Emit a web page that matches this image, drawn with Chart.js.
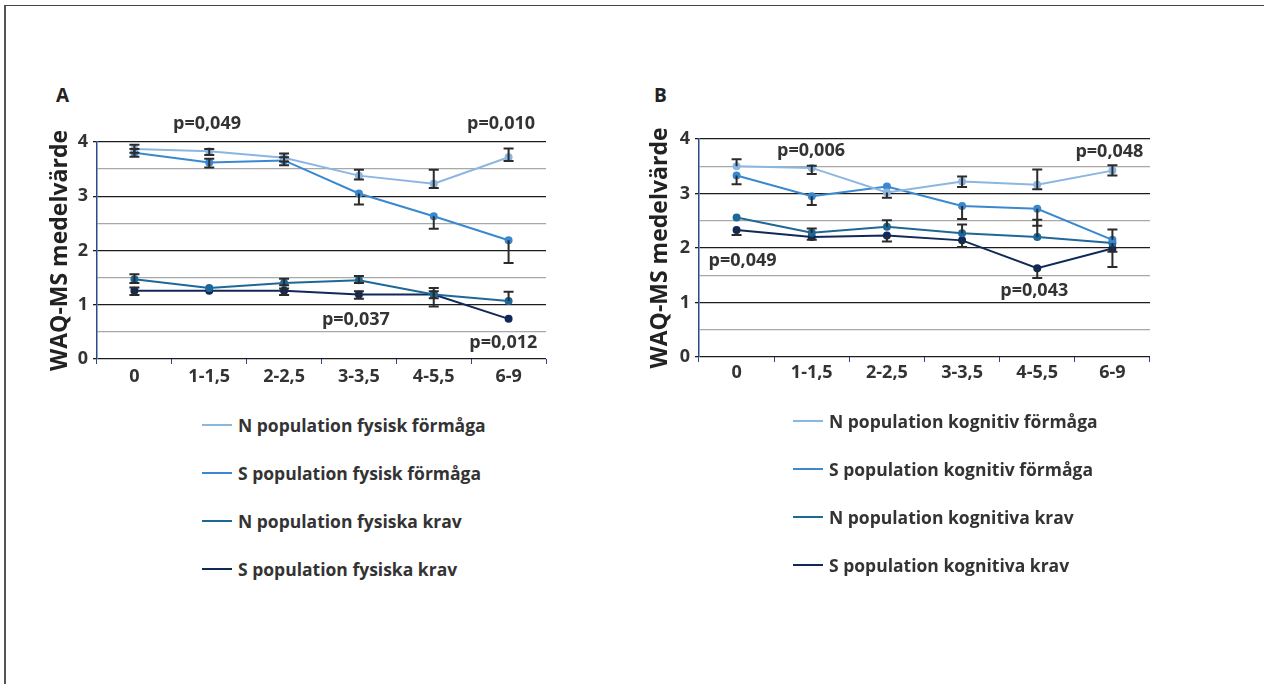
<!DOCTYPE html>
<html>
<head>
<meta charset="utf-8">
<script src="https://cdn.jsdelivr.net/npm/chart.js@4"></script>
<style>
  body { margin: 0; background: #fff; width: 1264px; height: 684px; position: relative; overflow: hidden; font-family: "Open Sans", sans-serif; }
  .frame { position: absolute; left: 4px; top: 5px; right: 0; bottom: 0; border-top: 1px solid #444; border-left: 2px solid #555; }
  .panel-label { position: absolute; font: bold 19px "Open Sans", sans-serif; color: #222; line-height: 1; }
  .chart-box { position: absolute; width: 530px; height: 320px; }
  .legend { position: absolute; font: bold 17.5px "Open Sans", sans-serif; color: #333; }
  .legend div { height: 48px; display: flex; align-items: center; }
  .legend span.swatch { display: inline-block; width: 30px; height: 2px; margin-right: 6px; }
</style>
</head>
<body>
<div class="frame"></div>
<div class="panel-label" style="left:56px; top:86px;">A</div>
<div class="panel-label" style="left:654px; top:86px;">B</div>
<div class="chart-box" style="left:40px; top:80px;"><canvas id="chartA"></canvas></div>
<div class="chart-box" style="left:640px; top:80px;"><canvas id="chartB"></canvas></div>
<div class="legend" id="legendA" style="left:202px; top:401px;"></div>
<div class="legend" id="legendB" style="left:793px; top:397px;"></div>
<script>
// age groups (years) on the x axis
const ageGroups = ['0', '1-1,5', '2-2,5', '3-3,5', '4-5,5', '6-9'];

// Panel A - physical ability / demands
const aLabels = ['N population fysisk förmåga', 'S population fysisk förmåga', 'N population fysiska krav', 'S population fysiska krav'];
const aNForm = [3.87, 3.83, 3.71, 3.38, 3.23, 3.72];
const aSForm = [3.80, 3.62, 3.66, 3.05, 2.63, 2.19];
const aNKrav = [1.47, 1.31, 1.40, 1.45, 1.19, 1.07];
const aSKrav = [1.26, 1.26, 1.26, 1.19, 1.19, 0.74];
// error bars [low, high]
const aNFormErr = [[3.80, 3.95], [3.76, 3.87], [3.64, 3.79], [3.31, 3.49], [3.15, 3.49], [3.65, 3.88]];
const aSFormErr = [[3.73, 3.87], [3.53, 3.69], [3.57, 3.72], [2.85, 3.05], [2.40, 2.63], [1.77, 2.19]];
const aNKravErr = [[1.40, 1.56], null, [1.36, 1.48], [1.40, 1.53], [1.12, 1.31], [1.07, 1.24]];
const aSKravErr = [[1.18, 1.32], null, [1.18, 1.30], [1.11, 1.25], [0.97, 1.25], null];
const aNotes = ['p=0,049', 'p=0,010', 'p=0,037', 'p=0,012'];
const aNoteAt = [[0.97, 4.34], [4.9, 4.34], [2.96, 0.72], [4.93, 0.29]];

// Panel B - cognitive ability / demands
const bLabels = ['N population kognitiv förmåga', 'S population kognitiv förmåga', 'N population kognitiva krav', 'S population kognitiva krav'];
const bNForm = [3.50, 3.47, 3.02, 3.22, 3.16, 3.42];
const bSForm = [3.33, 2.95, 3.13, 2.77, 2.72, 2.15];
const bNKrav = [2.56, 2.28, 2.39, 2.27, 2.20, 2.09];
const bSKrav = [2.33, 2.20, 2.23, 2.14, 1.63, 1.99];
const bNFormErr = [[3.50, 3.63], [3.36, 3.51], [2.92, 3.02], [3.12, 3.31], [3.08, 3.44], [3.33, 3.52]];
const bSFormErr = [[3.17, 3.33], [2.79, 2.95], null, [2.53, 2.77], [2.41, 2.72], [2.15, 2.34]];
const bNKravErr = [null, [2.28, 2.36], [2.39, 2.51], [2.27, 2.43], [2.20, 2.52], [1.93, 2.09]];
const bSKravErr = [[2.24, 2.33], [2.15, 2.20], [2.12, 2.23], [2.02, 2.14], [1.45, 1.63], [1.65, 1.99]];
const bNotes = ['p=0,006', 'p=0,048', 'p=0,049', 'p=0,043'];
const bNoteAt = [[0.99, 3.78], [4.96, 3.76], [0.08, 1.77], [3.96, 1.22]];

const colors = ['#8cb6e2', '#3a88cf', '#1d6899', '#10295a'];

Chart.defaults.font.family = '"Open Sans", sans-serif';
Chart.defaults.color = '#333';

// draws I-shaped error bars from the err arrays stored on each dataset
const errorBars = {
  id: 'errorBars',
  afterDatasetsDraw(chart) {
    const ctx = chart.ctx, y = chart.scales.y;
    ctx.save();
    ctx.strokeStyle = '#2b2b2b';
    ctx.lineWidth = 2;
    chart.data.datasets.forEach((ds, i) => {
      const meta = chart.getDatasetMeta(i);
      ds.err.forEach((e, j) => {
        if (!e) return;
        const px = meta.data[j].x;
        const yLo = y.getPixelForValue(e[0]), yHi = y.getPixelForValue(e[1]);
        ctx.beginPath();
        ctx.moveTo(px, yLo); ctx.lineTo(px, yHi);
        if (e[0] !== ds.data[j]) { ctx.moveTo(px - 5, yLo); ctx.lineTo(px + 5, yLo); }
        if (e[1] !== ds.data[j]) { ctx.moveTo(px - 5, yHi); ctx.lineTo(px + 5, yHi); }
        ctx.stroke();
      });
    });
    ctx.restore();
  }
};

// p-value notes placed in data coordinates
const pNotes = {
  id: 'pNotes',
  afterDraw(chart) {
    const o = chart.options.plugins.pNotes;
    const ctx = chart.ctx;
    ctx.save();
    ctx.font = 'bold 18px "Open Sans", sans-serif';
    ctx.fillStyle = '#333';
    ctx.textAlign = 'center';
    ctx.textBaseline = 'middle';
    o.texts.forEach((t, k) => {
      ctx.fillText(t, chart.scales.x.getPixelForValue(o.at[k][0]), chart.scales.y.getPixelForValue(o.at[k][1]));
    });
    ctx.restore();
  }
};

function makeChart(id, legendId, labels, series, errs, notes, noteAt, pad) {
  const datasets = series.map((d, i) => ({
    label: labels[i],
    data: d,
    err: errs[i],
    borderColor: colors[i],
    backgroundColor: colors[i],
    borderWidth: 2,
    pointRadius: 3,
    pointHoverRadius: 3,
    tension: 0
  }));
  const chart = new Chart(document.getElementById(id), {
    type: 'line',
    data: { labels: ageGroups, datasets: datasets },
    options: {
      responsive: true,
      maintainAspectRatio: false,
      animation: false,
      layout: { padding: { top: pad.top, right: pad.right, bottom: 0, left: 0 } },
      plugins: {
        legend: { display: false },
        tooltip: { enabled: false },
        pNotes: { texts: notes, at: noteAt }
      },
      scales: {
        x: {
          offset: true,
          afterFit(s) { s.height = pad.xh; },
          grid: { offset: true, drawOnChartArea: false, tickLength: 5, color: '#2a4a8a' },
          border: { display: false },
          ticks: { padding: pad.xp, font: { size: 18, weight: 'bold' }, color: '#333' }
        },
        y: {
          min: 0, max: 4,
          afterFit(s) { s.width = pad.yw; },
          border: { color: '#2a4a8a', width: 1.5 },
          grid: {
            color: c => (c.tick.value % 1 === 0 ? '#1c1c1c' : '#a8a8a8'),
            tickColor: c => (c.tick.value % 1 === 0 ? '#1c1c1c' : 'rgba(0,0,0,0)'),
            lineWidth: 1.3,
            tickLength: 4
          },
          ticks: {
            stepSize: 0.5, padding: 5,
            font: { size: 18, weight: 'bold' }, color: '#333',
            callback: v => (v % 1 === 0 ? v : '')
          },
          title: {
            display: true, text: 'WAQ-MS medelvärde', color: '#222',
            font: { size: 23, weight: 'bold' }, padding: { top: 7, bottom: 0 }
          }
        }
      }
    },
    plugins: [errorBars, pNotes]
  });
  // html legend built from the datasets
  const leg = document.getElementById(legendId);
  chart.data.datasets.forEach(ds => {
    const row = document.createElement('div');
    row.innerHTML = '<span class="swatch" style="background:' + ds.borderColor + '"></span>' + ds.label;
    leg.appendChild(row);
  });
  return chart;
}

makeChart('chartA', 'legendA', aLabels, [aNForm, aSForm, aNKrav, aSKrav],
  [aNFormErr, aSFormErr, aNKravErr, aSKravErr], aNotes, aNoteAt,
  { top: 62, right: 24, yw: 57, xh: 41, xp: 2 });
makeChart('chartB', 'legendB', bLabels, [bNForm, bSForm, bNKrav, bSKrav],
  [bNFormErr, bSFormErr, bNKravErr, bSKravErr], bNotes, bNoteAt,
  { top: 59, right: 20, yw: 59, xh: 43, xp: 0 });
</script>
</body>
</html>
